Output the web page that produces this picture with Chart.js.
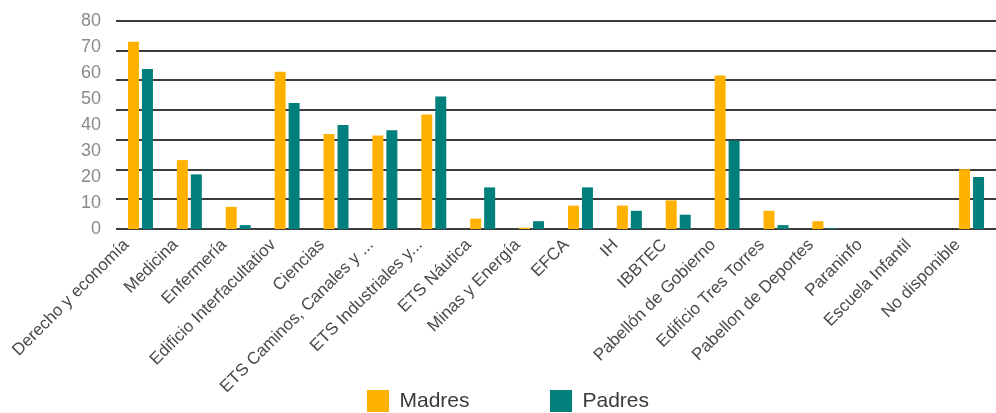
<!DOCTYPE html>
<html>
<head>
<meta charset="utf-8">
<script src="https://cdn.jsdelivr.net/npm/chart.js@4"></script>
<style>
  html, body { margin: 0; padding: 0; background: #fff; }
  #wrap { width: 996px; height: 413px; position: relative; }
</style>
</head>
<body>
<div id="wrap"><canvas id="c"></canvas></div>
<script>
const categories = ['Derecho y economía', 'Medicina', 'Enfermería', 'Edificio Interfacultatiov', 'Ciencias',
  'ETS Caminos, Canales y ...', 'ETS Industriales y...', 'ETS Náutica', 'Minas y Energía', 'EFCA', 'IH',
  'IBBTEC', 'Pabellón de Gobierno', 'Edificio Tres Torres', 'Pabellon de Deportes', 'Paraninfo',
  'Escuela Infantil', 'No disponible'];
const madres = [72, 26.5, 8.5, 60.5, 36.5, 36, 44, 4, 0.5, 9, 9, 11, 59, 7, 3, 0, 0, 23];
const padres = [61.5, 21, 1.5, 48.5, 40, 38, 51, 16, 3, 16, 7, 5.5, 34, 1.5, 0.3, 0, 0, 20];
const yTicks = [0, 10, 20, 30, 40, 50, 60, 70, 80];

const FONT = "'Liberation Sans', Arial, sans-serif";
const catPct = 0.5726, barPct = 0.786;

new Chart(document.getElementById('c'), {
  type: 'bar',
  data: {
    labels: categories,
    datasets: [
      { label: 'Madres', data: madres, backgroundColor: '#FFB100', borderWidth: 0, categoryPercentage: catPct, barPercentage: barPct, yAxisID: 'y' },
      { label: 'Padres', data: padres, backgroundColor: '#007F7C', borderWidth: 0, categoryPercentage: catPct, barPercentage: barPct, yAxisID: 'y' }
    ]
  },
  options: {
    responsive: true,
    maintainAspectRatio: false,
    animation: false,
    layout: { padding: { left: 20, right: 0, top: 21, bottom: 0 } },
    plugins: {
      tooltip: { enabled: false },
      legend: {
        position: 'bottom',
        maxHeight: 47,
        labels: {
          boxWidth: 22, boxHeight: 22, padding: 24, color: '#3a3a3a',
          font: { size: 21, family: FONT },
          generateLabels(chart) {
            const items = Chart.defaults.plugins.legend.labels.generateLabels(chart);
            items.forEach(i => { i.lineWidth = 0; i.strokeStyle = 'rgba(0,0,0,0)'; });
            return [items[0], { text: '', fillStyle: 'rgba(0,0,0,0)', strokeStyle: 'rgba(0,0,0,0)', lineWidth: 0, hidden: false }, items[1]];
          }
        }
      }
    },
    scales: {
      x: {
        grid: { display: false, drawTicks: false },
        border: { display: false },
        ticks: { autoSkip: false, maxRotation: 45, minRotation: 45, padding: 6, labelOffset: -14, color: '#4a4a4a', font: { size: 17, family: FONT } },
        afterFit(s) { s.height = 137; s._computeLabelArea = () => undefined; }
      },
      y: {
        position: 'left', min: 0, max: 80, weight: 1,
        afterBuildTicks(s) { s.ticks = yTicks.map(v => ({ value: v })); },
        ticks: { padding: 4, color: '#8a8a8a', font: { size: 18, family: FONT } },
        grid: { display: false, drawTicks: false },
        border: { display: false },
        afterFit(s) { s.width = 85; }
      },
      yg: {
        position: 'left', min: 0, max: 7, weight: 0,
        ticks: { display: false, stepSize: 1 },
        grid: { color: '#3c3c3c', lineWidth: 2, drawTicks: false },
        border: { display: false },
        afterFit(s) { s.width = 11; }
      }
    }
  }
});
</script>
</body>
</html>
